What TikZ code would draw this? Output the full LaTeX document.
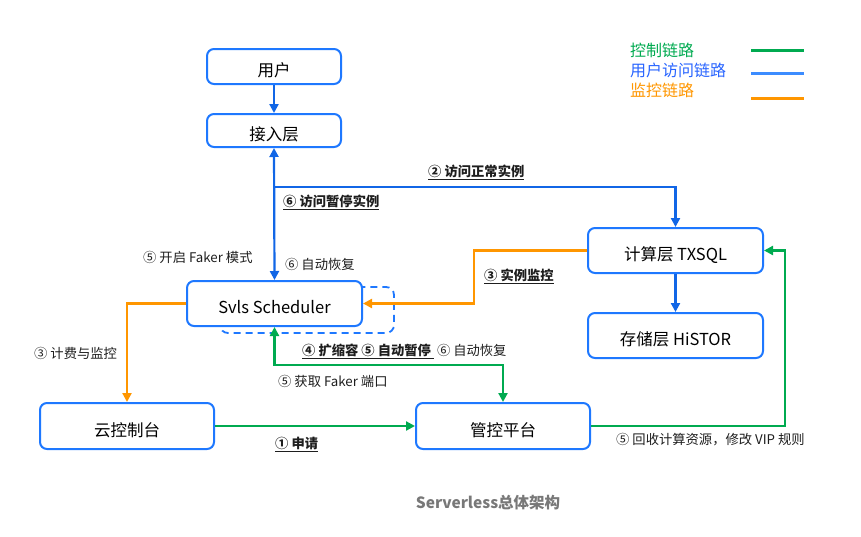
\documentclass[tikz,border=0pt]{standalone}
\usepackage{fontspec}
\setmainfont{Noto Sans CJK SC}
\usetikzlibrary{arrows.meta}
\definecolor{boxblue}{RGB}{30,120,255}
\definecolor{lineblue}{RGB}{17,102,230}
\definecolor{lgreen}{RGB}{0,170,80}
\definecolor{lorange}{RGB}{255,150,0}
\definecolor{legblue}{RGB}{60,140,255}
\definecolor{legtblue}{RGB}{40,100,255}
\definecolor{txt}{RGB}{30,30,30}
\definecolor{titlegray}{RGB}{120,120,120}
\tikzset{
  box/.style={draw=boxblue, line width=2pt, rounded corners=7pt, fill=white,
    minimum width=175pt, minimum height=45pt, font=\fontsize{16.5}{19}\selectfont, text=black, inner sep=0pt,
    text height=20pt, text depth=0pt},
  tip/.style={-{Triangle[length=9pt,width=9pt]}},
  dtip/.style={{Triangle[length=9pt,width=9pt]}-{Triangle[length=9pt,width=9pt]}},
  bluel/.style={draw=lineblue, line width=2.2pt},
  greenl/.style={draw=lgreen, line width=2.2pt},
  orangel/.style={draw=lorange, line width=2.2pt},
  lbl/.style={font=\fontsize{13.3}{15}\selectfont, text=txt, inner sep=0pt, anchor=west},
  blbl/.style={font=\fontsize{13.3}{15}\selectfont\bfseries, text=txt, inner sep=0pt, anchor=west},
  leg/.style={font=\fontsize{16}{18}\selectfont, inner sep=0pt, anchor=west},
}
\begin{document}
\begin{tikzpicture}[x=1pt,y=-1pt]
\useasboundingbox (0,0) rectangle (861,536);
% dashed box behind scheduler
\draw[draw=boxblue, line width=1.8pt, dash pattern=on 7pt off 5pt, rounded corners=8pt] (220,287) rectangle (394,333);
% boxes
\node[box, minimum width=134pt, minimum height=35pt] (user) at (274,66.5) {用户};
\node[box, minimum width=134pt, minimum height=33pt] (access) at (274,130.5) {接入层};
\node[box] (sched) at (274.5,303.5) {Svls Scheduler};
\node[box] (compute) at (675.5,250.5) {计算层 TXSQL};
\node[box] (storage) at (675.5,335.5) {存储层 HiSTOR};
\node[box, minimum width=174pt, minimum height=46pt] (console) at (127,426) {云控制台};
\node[box, minimum width=174pt, minimum height=46pt] (mgmt) at (503,426) {管控平台};
% coordinates
\coordinate (bj) at (274,187);
\coordinate (oj) at (474,250.5);
\coordinate (gj) at (503,365);
\coordinate (rj) at (785,426);
% blue connectors
\draw[bluel, tip] (user) -- (access);
\draw[bluel, dtip] (access.south) -- (sched.north);
\draw[bluel, tip] (bj) -| (compute.north);
\draw[bluel, tip] (compute) -- (storage);
% orange connectors
\draw[orangel, tip] (compute.west) -- (oj) |- (sched.east);
\draw[orangel, tip] (sched.west) -| (console.north);
% green connectors
\draw[greenl, tip] (console) -- (mgmt);
\draw[greenl, dtip] (mgmt.north) -- (gj) -| (sched.south);
\draw[greenl, tip] (mgmt.east) -- (rj) |- (compute.east);
% labels
\node[lbl] (l1) at (143,257) {⑤ 开启 Faker 模式};
\node[lbl] (l2) at (285,264) {⑥ 自动恢复};
\node[blbl] (l3) at (428,172) {\underline{② 访问正常实例}};
\node[blbl] (l4) at (283,202) {\underline{⑥ 访问暂停实例}};
\node[blbl] (l5) at (484,276) {\underline{③ 实例监控}};
\node[lbl] (l6) at (34,353) {③ 计费与监控};
\node[lbl] (l7) at (302,351) {{\bfseries\underline{④ 扩缩容 ⑤ 自动暂停 }} ⑥ 自动恢复};
\node[lbl] (l8) at (278,381) {⑤ 获取 Faker 端口};
\node[blbl] (l9) at (275,444) {\underline{① 申请}};
\node[lbl] (l10) at (616,440) {⑤ 回收计算资源，修改 VIP 规则};
\node[font=\fontsize{15.5}{18}\selectfont\bfseries, text=titlegray, inner sep=0pt] (title) at (488,503) {Serverless总体架构};
% legend
\node[leg, text=lgreen] (g1) at (630,50) {控制链路};
\node[leg, text=legtblue] (g2) at (630,70) {用户访问链路};
\node[leg, text=lorange] (g3) at (630,90) {监控链路};
\coordinate (ga) at (751,50); \coordinate (gb) at (804,50);
\coordinate (ba) at (751,73); \coordinate (bb) at (804,73);
\coordinate (oa) at (751,98); \coordinate (ob) at (804,98);
\draw[draw=lgreen, line width=3pt] (ga) -- (gb);
\draw[draw=legblue, line width=3pt] (ba) -- (bb);
\draw[draw=lorange, line width=3pt] (oa) -- (ob);
\end{tikzpicture}
\end{document}
